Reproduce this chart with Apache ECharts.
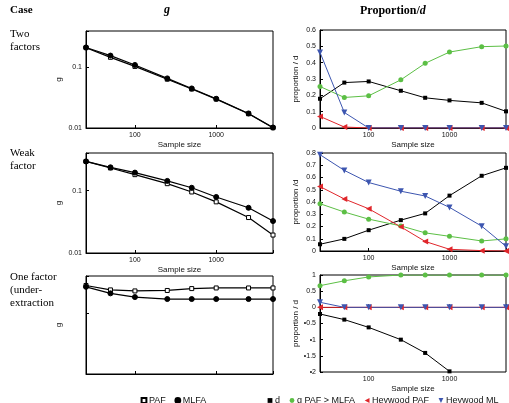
<!DOCTYPE html>
<html>
<head>
<meta charset="utf-8">
<script src="https://cdn.jsdelivr.net/npm/echarts@6/dist/echarts.min.js"></script>
<style>
html, body { margin: 0; padding: 0; background: #fff; }
#chart { width: 509px; height: 403px; }
</style>
</head>
<body>
<div id="chart"></div>
<script>
var sampleSizes = [25, 50, 100, 250, 500, 1000, 2500, 5000];
var xTickLabels = ['100', '1000'];

// g, left column
var twoPAF = [0.212, 0.147, 0.104, 0.064, 0.044, 0.030, 0.0172, 0.0101];
var twoMLFA = [0.214, 0.157, 0.110, 0.066, 0.045, 0.0304, 0.0174, 0.0102];
var weakPAF = [0.293, 0.230, 0.180, 0.129, 0.095, 0.066, 0.037, 0.0194];
var weakMLFA = [0.293, 0.236, 0.194, 0.143, 0.111, 0.079, 0.053, 0.0325];
var onePAF = [0.280, 0.237, 0.228, 0.232, 0.249, 0.255, 0.255, 0.255];
var oneMLFA = [0.266, 0.208, 0.181, 0.168, 0.168, 0.168, 0.168, 0.168];

// proportion / d, right column
var twoD = [0.179, 0.278, 0.285, 0.228, 0.185, 0.169, 0.154, 0.102];
var twoGreater = [0.254, 0.187, 0.197, 0.295, 0.396, 0.465, 0.498, 0.502];
var twoHeyPAF = [0.071, 0.006, 0, 0, 0, 0, 0, 0];
var twoHeyML = [0.463, 0.095, 0, 0, 0, 0, 0, 0];

var weakD = [0.055, 0.099, 0.170, 0.252, 0.307, 0.452, 0.614, 0.679];
var weakGreater = [0.386, 0.318, 0.260, 0.205, 0.148, 0.120, 0.082, 0.099];
var weakHeyPAF = [0.526, 0.425, 0.345, 0.197, 0.078, 0.014, 0.003, 0];
var weakHeyML = [0.786, 0.658, 0.559, 0.488, 0.449, 0.356, 0.203, 0.038];

var oneD = [-0.206, -0.38, -0.62, -1.0, -1.41, -1.98, null, null];
var oneGreater = [0.67, 0.82, 0.94, 1.0, 1.0, 1.0, 1.0, 1.0];
var oneHeyPAF = [0, 0, 0, 0, 0, 0, 0, 0];
var oneHeyML = [0.155, 0, 0, 0, 0, 0, 0, 0];

var chart = echarts.init(document.getElementById('chart'));

function pairs(vals) {
  return sampleSizes.map(function (x, i) { return [x, vals[i]]; });
}

var grids = [
  { left: 86, top: 31, width: 187, height: 97 },
  { left: 320, top: 30, width: 186, height: 98 },
  { left: 86, top: 153, width: 187, height: 100 },
  { left: 320, top: 153, width: 186, height: 98 },
  { left: 86, top: 276, width: 187, height: 98 },
  { left: 320, top: 275, width: 186, height: 97 }
];
grids.forEach(function (g) { g.show = true; g.borderColor = '#000'; g.borderWidth = 1; });

var lbl = { fontSize: 7, color: '#111', fontFamily: 'Liberation Sans' };

function xAx(i, showLabel) {
  return {
    type: 'log', logBase: 10, min: 25, max: 5000, gridIndex: i,
    axisLine: { lineStyle: { color: '#000' } },
    axisTick: { inside: true, length: 3, lineStyle: { color: '#000' } },
    axisLabel: Object.assign({
      show: showLabel, margin: 4,
      formatter: function (v) {
        var s = String(Math.round(v));
        return xTickLabels.indexOf(s) >= 0 ? s : '';
      }
    }, lbl),
    splitLine: { show: false },
    name: showLabel ? 'Sample size' : '', nameLocation: 'middle', nameGap: 13,
    nameTextStyle: { fontSize: 8, color: '#111', fontFamily: 'Liberation Sans' }
  };
}

function yLog(i, showLabel) {
  return {
    type: 'log', logBase: 10, min: 0.01, max: 0.4, gridIndex: i,
    axisLine: { lineStyle: { color: '#000' } },
    axisTick: { inside: true, length: 3, lineStyle: { color: '#000' } },
    axisLabel: Object.assign({
      show: showLabel, margin: 4,
      formatter: function (v) {
        var l = Math.log10(v);
        return Math.abs(l - Math.round(l)) < 1e-6 ? String(+v.toPrecision(2)) : '';
      }
    }, lbl),
    splitLine: { show: false },
    name: 'g', nameLocation: 'middle', nameGap: 23, nameRotate: 90,
    nameTextStyle: { fontSize: 8, color: '#111', fontFamily: 'Liberation Sans' }
  };
}

function yVal(i, min, max, name) {
  return {
    type: 'value', min: min, max: max, interval: 0.1, gridIndex: i,
    axisLine: { lineStyle: { color: '#000' } },
    axisTick: { inside: true, length: 3, lineStyle: { color: '#000' } },
    axisLabel: Object.assign({
      margin: 4,
      formatter: function (v) { return String(+v.toFixed(1)); }
    }, lbl),
    splitLine: { show: false },
    name: name, nameLocation: 'middle', nameGap: 20, nameRotate: 90,
    nameTextStyle: { fontSize: 8, color: '#111', fontFamily: 'Liberation Sans' }
  };
}

var yR3 = yVal(5, -2, 1, 'proportion / d');
yR3.interval = 0.5;
yR3.axisLabel.formatter = function (v) { return v < 0 ? '\u2022' + (-v) : String(v); };

function gSeries(name, vals, i) {
  var open = name === 'PAF';
  return {
    name: name, type: 'line', xAxisIndex: i, yAxisIndex: i,
    data: pairs(vals),
    symbol: open ? 'rect' : 'circle', symbolSize: open ? 4 : 5,
    itemStyle: { color: open ? '#fff' : '#000', borderColor: '#000', borderWidth: 1 },
    lineStyle: { color: '#000', width: 1.2 },
    emphasis: { disabled: true }
  };
}

var propStyle = {
  'd': { color: '#000', symbol: 'rect', size: 4, rotate: 0 },
  'g PAF > MLFA': { color: '#5cbf45', symbol: 'circle', size: 5, rotate: 0 },
  'Heywood PAF': { color: '#e0262b', symbol: 'triangle', size: 6, rotate: 90 },
  'Heywood ML': { color: '#3d56b0', symbol: 'triangle', size: 6, rotate: 180 }
};

function pSeries(name, vals, i) {
  var s = propStyle[name];
  return {
    name: name, type: 'line', xAxisIndex: i, yAxisIndex: i,
    data: pairs(vals),
    symbol: s.symbol, symbolSize: s.size, symbolRotate: s.rotate,
    itemStyle: { color: s.color },
    lineStyle: { color: s.color, width: 1 },
    emphasis: { disabled: true }
  };
}

var serif = 'Liberation Serif';

var option = {
  animation: false,
  backgroundColor: '#fff',
  grid: grids,
  xAxis: [xAx(0, true), xAx(1, true), xAx(2, true), xAx(3, true), xAx(4, false), xAx(5, true)],
  yAxis: [
    yLog(0, true), yVal(1, 0, 0.6, 'proportion / d'),
    yLog(2, true), yVal(3, 0, 0.8, 'proportion /d'),
    yLog(4, false), yR3
  ],
  legend: [
    {
      data: ['PAF', 'MLFA'], left: 140, top: 396, padding: 0,
      itemWidth: 6, itemHeight: 6, itemGap: 8,
      lineStyle: { opacity: 0 },
      textStyle: { fontSize: 9, color: '#111', fontFamily: 'Liberation Sans', padding: [0, 0, 0, -3] }
    },
    {
      data: ['d', 'g PAF > MLFA', 'Heywood PAF', 'Heywood ML'], left: 266, top: 396, padding: 0,
      itemWidth: 6, itemHeight: 6, itemGap: 8,
      lineStyle: { opacity: 0 },
      textStyle: { fontSize: 9, color: '#111', fontFamily: 'Liberation Sans', padding: [0, 0, 0, -3] }
    }
  ],
  graphic: [
    { type: 'text', left: 10, top: 5, style: { text: 'Case', font: 'bold 11px ' + serif, fill: '#000' } },
    { type: 'text', left: 164, top: 4, style: { text: 'g', font: 'italic bold 12px ' + serif, fill: '#000' } },
    { type: 'text', left: 360, top: 5, style: {
      text: '{a|Proportion/}{b|d}',
      rich: {
        a: { font: 'bold 12px ' + serif, fill: '#000' },
        b: { font: 'italic bold 12px ' + serif, fill: '#000' }
      }
    } },
    { type: 'text', left: 10, top: 28, style: { text: 'Two\nfactors', font: '11px ' + serif, lineHeight: 13, fill: '#000' } },
    { type: 'text', left: 10, top: 147, style: { text: 'Weak\nfactor', font: '11px ' + serif, lineHeight: 13, fill: '#000' } },
    { type: 'text', left: 10, top: 271, style: { text: 'One factor\n(under-\nextraction', font: '11px ' + serif, lineHeight: 13, fill: '#000' } }
  ],
  series: [
    gSeries('PAF', twoPAF, 0), gSeries('MLFA', twoMLFA, 0),
    gSeries('PAF', weakPAF, 2), gSeries('MLFA', weakMLFA, 2),
    gSeries('PAF', onePAF, 4), gSeries('MLFA', oneMLFA, 4),

    pSeries('d', twoD, 1), pSeries('g PAF > MLFA', twoGreater, 1),
    pSeries('Heywood PAF', twoHeyPAF, 1), pSeries('Heywood ML', twoHeyML, 1),
    pSeries('d', weakD, 3), pSeries('g PAF > MLFA', weakGreater, 3),
    pSeries('Heywood PAF', weakHeyPAF, 3), pSeries('Heywood ML', weakHeyML, 3),
    pSeries('d', oneD, 5), pSeries('g PAF > MLFA', oneGreater, 5),
    pSeries('Heywood PAF', oneHeyPAF, 5), pSeries('Heywood ML', oneHeyML, 5)
  ]
};

chart.setOption(option);
</script>
</body>
</html>
